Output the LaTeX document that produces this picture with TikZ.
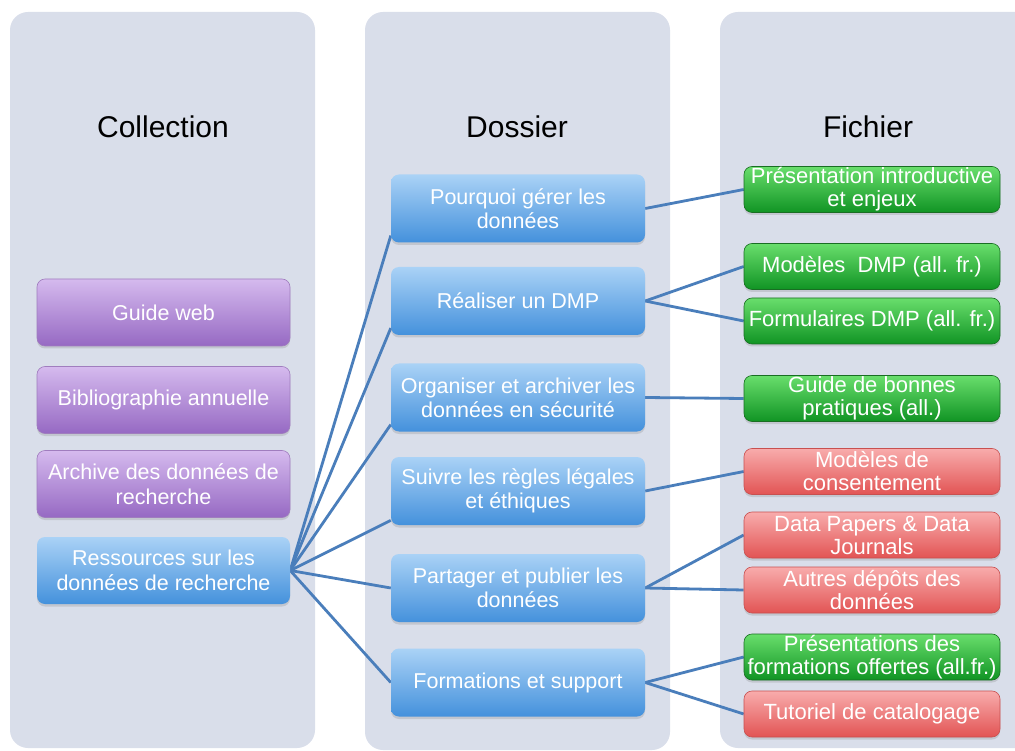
\documentclass[tikz,border=0pt]{standalone}
\usepackage{fontspec}
\setmainfont{Liberation Sans}
\usetikzlibrary{shadows,backgrounds}

\definecolor{panelgray}{RGB}{217,222,234}
\definecolor{linkblue}{RGB}{74,126,187}
\definecolor{purpletop}{RGB}{213,186,238}
\definecolor{purplebot}{RGB}{150,105,195}
\definecolor{purpleline}{RGB}{160,125,190}
\definecolor{bluetop}{RGB}{170,210,246}
\definecolor{bluebot}{RGB}{68,145,220}
\definecolor{greentop}{RGB}{105,222,108}
\definecolor{greenbot}{RGB}{16,148,36}
\definecolor{greenline}{RGB}{25,110,35}
\definecolor{redtop}{RGB}{248,172,172}
\definecolor{redbot}{RGB}{226,84,84}
\definecolor{redline}{RGB}{200,80,80}

\begin{document}
\begin{tikzpicture}[x=1pt,y=1pt,yscale=-1,xscale=1,
  panel/.style={fill=panelgray,rounded corners=18pt},
  header/.style={anchor=base,font=\fontsize{30}{34}\selectfont},
  box/.style={rounded corners=8pt,align=center,inner sep=0pt,text=white,
    drop shadow={shadow xshift=0pt,shadow yshift=-2.5pt,opacity=0.25}},
  collbox/.style={box,minimum width=253pt,minimum height=67pt,font=\fontsize{21.5}{25}\selectfont},
  dossbox/.style={box,minimum width=254pt,minimum height=68pt,font=\fontsize{21.5}{24}\selectfont},
  filebox/.style={box,minimum width=256pt,minimum height=46pt,font=\fontsize{22}{23}\selectfont},
  purplebox/.style={draw=purpleline,line width=0.6pt,top color=purpletop,bottom color=purplebot},
  bluebox/.style={top color=bluetop,bottom color=bluebot},
  greenbox/.style={filebox,draw=greenline,line width=0.6pt,top color=greentop,bottom color=greenbot},
  redbox/.style={filebox,draw=redline,line width=0.6pt,top color=redtop,bottom color=redbot},
  link/.style={color=linkblue,line width=2.8pt}
]
\useasboundingbox (0,0) rectangle (1015,751);
\clip (0,0) rectangle (1015,751);

%Text Node
\node[header] (coll) at (163,138) {Collection};
%Text Node
\node[header] (doss) at (517,138) {Dossier};
%Text Node
\node[header] (fich) at (868,138) {Fichier};

%Rounded Rect
\node[collbox,purplebox] (guide) at (163.5,312.5) {Guide web};
%Rounded Rect
\node[collbox,purplebox] (biblio) at (163.5,400) {Bibliographie annuelle};
%Rounded Rect
\node[collbox,purplebox] (archive) at (163.5,484) {Archive des données de\\recherche};
%Rounded Rect
\node[collbox,bluebox] (ressources) at (163.5,570.5) {Ressources sur les\\données de recherche};

%Rounded Rect
\node[dossbox,bluebox] (pourquoi) at (518,208.5) {Pourquoi gérer les\\données};
%Rounded Rect
\node[dossbox,bluebox] (realiser) at (518,301) {Réaliser un DMP};
%Rounded Rect
\node[dossbox,bluebox] (organiser) at (518,397.5) {Organiser et archiver les\\données en sécurité};
%Rounded Rect
\node[dossbox,bluebox] (suivre) at (518,491) {Suivre les règles légales\\et éthiques};
%Rounded Rect
\node[dossbox,bluebox] (partager) at (518,588) {Partager et publier les\\données};
%Rounded Rect
\node[dossbox,bluebox] (formations) at (518,682.5) {Formations et support};

%Rounded Rect
\node[greenbox] (intro) at (872,189.5) {Présentation introductive\\et enjeux};
%Rounded Rect
\node[greenbox] (modeles) at (872,266.5) {Modèles\ \ DMP (all. fr.)};
%Rounded Rect
\node[greenbox] (formulaires) at (872,321) {Formulaires DMP (all. fr.)};
%Rounded Rect
\node[greenbox] (bonnes) at (872,398.5) {Guide de bonnes\\pratiques (all.)};
%Rounded Rect
\node[redbox] (consent) at (872,471.5) {Modèles de\\consentement};
%Rounded Rect
\node[redbox] (datapapers) at (872,535) {Data Papers \& Data\\Journals};
%Rounded Rect
\node[redbox] (depots) at (872,590) {Autres dépôts des\\données};
%Rounded Rect
\node[greenbox] (presform) at (872,657) {Présentations des\\formations offertes (all.fr.)};
%Rounded Rect
\node[redbox] (tutoriel) at (872,714) {Tutoriel de catalogage};

\begin{scope}[on background layer]
%Shape: Rounded Rect
\fill[panel] (10,12) rectangle (315,748);
%Shape: Rounded Rect
\fill[panel] (365,12) rectangle (670,750);
%Shape: Rounded Rect
\fill[panel] (720,12) rectangle (1035,748);

%Straight Lines
\draw[link] (ressources.east) -- (pourquoi.192);
%Straight Lines
\draw[link] (ressources.east) -- (realiser.192);
%Straight Lines
\draw[link] (ressources.east) -- (organiser.192);
%Straight Lines
\draw[link] (ressources.east) -- (suivre.193);
%Straight Lines
\draw[link] (ressources.east) -- (partager.west);
%Straight Lines
\draw[link] (ressources.east) -- (formations.west);

%Straight Lines
\draw[link] (pourquoi.east) -- (intro.west);
%Straight Lines
\draw[link] (realiser.east) -- (modeles.west);
%Straight Lines
\draw[link] (realiser.east) -- (formulaires.west);
%Straight Lines
\draw[link] (organiser.east) -- (bonnes.west);
%Straight Lines
\draw[link] (suivre.east) -- (consent.west);
%Straight Lines
\draw[link] (partager.east) -- (datapapers.west);
%Straight Lines
\draw[link] (partager.east) -- (depots.west);
%Straight Lines
\draw[link] (formations.east) -- (presform.west);
%Straight Lines
\draw[link] (formations.east) -- (tutoriel.west);
\end{scope}

\end{tikzpicture}
\end{document}
